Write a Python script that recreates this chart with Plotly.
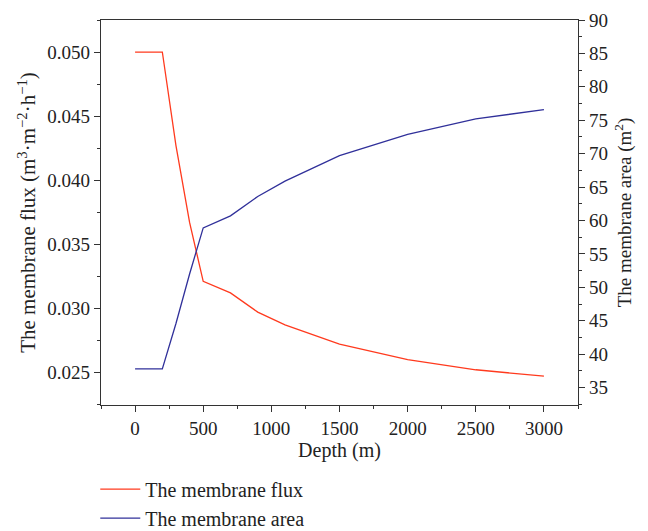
import plotly.graph_objects as go

depth = [0, 200, 300, 400, 500, 700, 900, 1100, 1500, 2000, 2500, 3000]
flux = [0.0500, 0.0500, 0.0427, 0.0367, 0.0321, 0.0312, 0.0297, 0.0287, 0.0272, 0.0260, 0.0252, 0.0247]
area = [37.8, 37.8, 44.6, 52.0, 58.9, 60.7, 63.6, 65.9, 69.7, 72.9, 75.2, 76.6]

FONT = "Liberation Serif"
RED = "#FF3A1E"
BLUE = "#30309A"

fig = go.Figure()
fig.add_trace(go.Scatter(x=depth, y=flux, mode="lines", name="The membrane flux",
                         line=dict(color=RED, width=1.3), yaxis="y"))
fig.add_trace(go.Scatter(x=depth, y=area, mode="lines", name="The membrane area",
                         line=dict(color=BLUE, width=1.3), yaxis="y2"))

axcommon = dict(showline=True, linecolor="#333", linewidth=1.2, ticks="outside",
                ticklen=6, tickwidth=1, tickcolor="#333", showgrid=False, zeroline=False,
                tickfont=dict(family=FONT, size=19, color="#222"))

fig.update_layout(
    width=648, height=531,
    margin=dict(l=101, r=70, t=20, b=126, autoexpand=False),
    plot_bgcolor="white", paper_bgcolor="white",
    font=dict(family=FONT, size=19, color="#222"),
    xaxis=dict(range=[-250, 3250], dtick=500, mirror=True,
               title=dict(text="Depth (m)", font=dict(family=FONT, size=20), standoff=4),
               minor=dict(dtick=250, ticklen=3, ticks="outside", tickcolor="#333"),
               **axcommon),
    yaxis=dict(range=[0.02245, 0.0525], tick0=0.025, dtick=0.005, tickformat=".3f",
               title=dict(text="The membrane flux (m<sup>3</sup>·m<sup>−2</sup>·h<sup>−1</sup>)",
                          font=dict(family=FONT, size=21), standoff=5),
               minor=dict(dtick=0.0025, ticklen=3, ticks="outside", tickcolor="#333"),
               **axcommon),
    yaxis2=dict(range=[32.4, 90], tick0=35, dtick=5, overlaying="y", side="right",
                title=dict(text="The membrane area (m<sup>2</sup>)",
                           font=dict(family=FONT, size=19), standoff=10),
                minor=dict(dtick=2.5, ticklen=3, ticks="outside", tickcolor="#333"),
                **axcommon),
    showlegend=True,
    legend=dict(x=-0.012, y=-0.168, xanchor="left", yanchor="top",
                font=dict(family=FONT, size=20, color="#222"),
                bgcolor="rgba(0,0,0,0)", itemwidth=40, tracegroupgap=0),
)

fig.write_html("out.html")
